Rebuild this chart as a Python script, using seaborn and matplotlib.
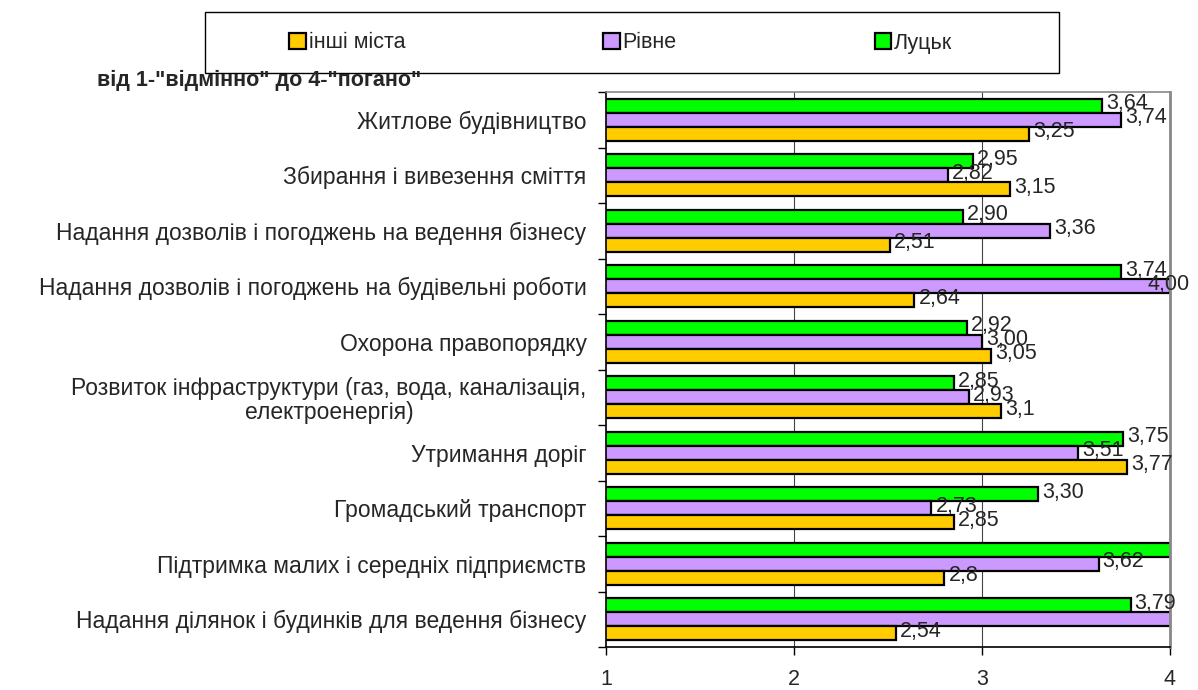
import matplotlib
matplotlib.use("Agg")
import matplotlib.pyplot as plt
import seaborn as sns
import pandas as pd
import numpy as np
from matplotlib.patches import Patch, Rectangle
from matplotlib.ticker import FixedLocator

categories = [
    "Житлове будівництво",
    "Збирання і вивезення сміття",
    "Надання дозволів і погоджень на ведення бізнесу",
    "Надання дозволів і погоджень на будівельні роботи",
    "Охорона правопорядку",
    "Розвиток інфраструктури (газ, вода, каналізація,\nелектроенергія)",
    "Утримання доріг",
    "Громадський транспорт",
    "Підтримка малих і середніх підприємств",
    "Надання ділянок і будинків для ведення бізнесу",
]
lutsk = [3.64, 2.95, 2.90, 3.74, 2.92, 2.85, 3.75, 3.30, 4.05, 3.79]
rivne = [3.74, 2.82, 3.36, 4.00, 3.00, 2.93, 3.51, 2.73, 3.62, 4.02]
other = [3.25, 3.15, 2.51, 2.64, 3.05, 3.10, 3.77, 2.85, 2.80, 2.54]
series_names = ["Луцьк", "Рівне", "інші міста"]
legend_order = ["інші міста", "Рівне", "Луцьк"]
colors = {"Луцьк": "#00FF00", "Рівне": "#CC99FF", "інші міста": "#FFCC00"}
x_ticks = [1, 2, 3, 4]
title = 'від 1-"відмінно" до 4-"погано"'

rows = []
for name, vals in zip(series_names, [lutsk, rivne, other]):
    for c, v in zip(categories, vals):
        rows.append({"cat": c, "series": name, "value": v})
df = pd.DataFrame(rows)

sns.set_theme(style="white")
plt.rcParams["font.family"] = ["Liberation Sans", "DejaVu Sans"]

W, H = 1198, 690
fig = plt.figure(figsize=(W/100, H/100), dpi=100)
ax = fig.add_axes([606/W, 1-647/H, (1170-606)/W, (647-92)/H])

sns.barplot(data=df, y="cat", x="value", hue="series", hue_order=series_names,
            order=categories, orient="h", palette=colors, width=0.76,
            edgecolor="black", linewidth=1.6, saturation=1, ax=ax, legend=False)

ax.set_xlim(1, 4)
ax.set_ylim(len(categories)-0.5, -0.5)
ax.set_xlabel("")
ax.set_ylabel("")
ax.set_xticks(x_ticks)
ax.set_xticklabels([str(t) for t in x_ticks], fontsize=15.5)
ax.tick_params(axis="x", direction="out", length=6, width=1, color="black", pad=10, bottom=True)
ax.yaxis.set_minor_locator(FixedLocator(np.arange(-0.5, len(categories), 1.0)))
ax.tick_params(axis="y", which="minor", direction="out", length=6, width=1, color="black", left=True)
ax.tick_params(axis="y", which="major", length=0, pad=14, labelsize=16.5)
for lbl in ax.get_yticklabels():
    lbl.set_horizontalalignment("right")
    lbl.set_multialignment("center")
    lbl.set_linespacing(1.05)

ax.grid(False)
for xv in [2, 3]:
    ax.axvline(xv, color="#444444", lw=0.8, zorder=0)
ax.spines["left"].set_color("black")
ax.spines["bottom"].set_color("black")
ax.spines["left"].set_linewidth(1.2)
ax.spines["bottom"].set_linewidth(1.2)
ax.spines["right"].set_color("#888888")
ax.spines["top"].set_color("#888888")
ax.spines["right"].set_linewidth(2)
ax.spines["top"].set_linewidth(1.2)

for cont, name in zip(ax.containers, series_names):
    labels = []
    for bar in cont:
        v = bar.get_width()
        if v > 4.0:
            labels.append("")
        elif name == "інші міста":
            labels.append(("%g" % v).replace(".", ","))
        else:
            labels.append(("%.2f" % v).replace(".", ","))
    anns = ax.bar_label(cont, labels=labels, padding=3, fontsize=15.5, clip_on=False)
    for bar, ann in zip(cont, anns):
        ann.xyann = (ann.xyann[0], 1.5)
        if abs(bar.get_width() - 4.0) < 1e-9:
            ann.xyann = (-16, 1.5)

# legend frame and entries
fig.patches.append(Rectangle((205/W, 1-73/H), 854/W, 61/H, transform=fig.transFigure,
                             facecolor="white", edgecolor="black", linewidth=1))
handles = [Patch(facecolor=colors[n], edgecolor="black", linewidth=1.6) for n in legend_order]
leg = fig.legend(handles, legend_order, loc="center",
                 bbox_to_anchor=(621/W, 1-43/H),
                 ncol=3, frameon=False, fontsize=15.5,
                 handlelength=0.75, handleheight=0.75, handletextpad=0.15,
                 columnspacing=9.2, borderaxespad=0)

fig.text(97/W, 1-80/H, title, fontsize=15.5, fontweight="bold", va="center", ha="left")

fig.savefig("out.png", dpi=100)
